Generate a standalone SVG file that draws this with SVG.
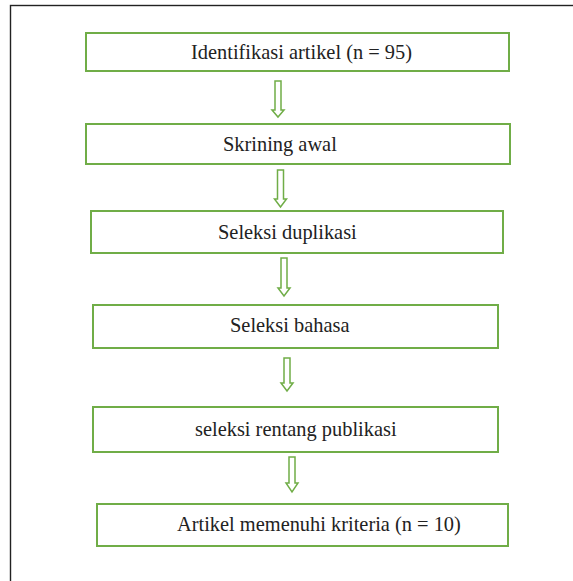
<svg xmlns="http://www.w3.org/2000/svg" width="573" height="581" viewBox="0 0 573 581">
<style>
.box{fill:#fff;stroke:#70AD47;stroke-width:2}
.arr{fill:#fff;stroke:#70AD47;stroke-width:1.5;stroke-linejoin:miter}
.t{font-family:"Liberation Serif","Times New Roman",Times,serif;font-size:20.4px;fill:#222}
</style>
<rect x="0" y="0" width="573" height="581" fill="#fff"/>
<rect x="10.5" y="5.5" width="620" height="620" fill="none" stroke="#222" stroke-width="1.4"/>
<g id="connectors">
<path class="arr" d="M275,81 H281 V110 H284 L278,117 L272,110 H275 Z"/>
<path class="arr" d="M277.5,170 H283.5 V199 H286.5 L280.5,207 L274.5,199 H277.5 Z"/>
<path class="arr" d="M281,258 H287 V288 H290 L284,296 L278,288 H281 Z"/>
<path class="arr" d="M284,358 H290 V383 H293 L287,391 L281,383 H284 Z"/>
<path class="arr" d="M289,457 H295 V483 H298 L292,492 L286,483 H289 Z"/>
</g>
<g id="n1"><rect class="box" x="86" y="33" width="423" height="38"/><text class="t" x="191" y="59">Identifikasi artikel (n = 95)</text></g>
<g id="n2"><rect class="box" x="86" y="124" width="424" height="40"/><text class="t" x="223" y="150.5">Skrining awal</text></g>
<g id="n3"><rect class="box" x="91" y="211" width="412" height="42"/><text class="t" x="218" y="238.5">Seleksi duplikasi</text></g>
<g id="n4"><rect class="box" x="93" y="305" width="405" height="43"/><text class="t" x="230" y="332">Seleksi bahasa</text></g>
<g id="n5"><rect class="box" x="93" y="407" width="405" height="45"/><text class="t" x="195" y="436">seleksi rentang publikasi</text></g>
<g id="n6"><rect class="box" x="97" y="504" width="411" height="42"/><text class="t" x="177" y="531">Artikel memenuhi kriteria (n = 10)</text></g>
</svg>
